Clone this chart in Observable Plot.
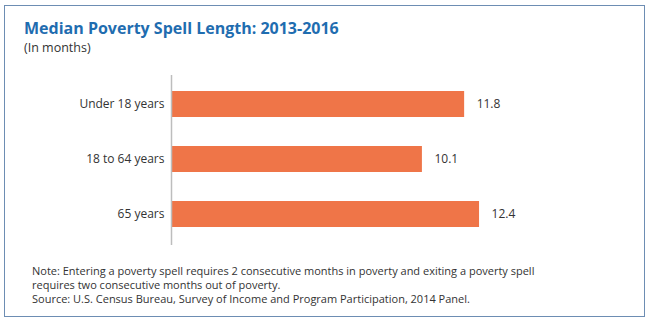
<!DOCTYPE html>
<html>
<head>
<meta charset="utf-8">
<script src="https://cdn.jsdelivr.net/npm/d3@7"></script>
<script src="https://cdn.jsdelivr.net/npm/@observablehq/plot@0.6"></script>
<style>
  body { margin: 0; background: #fff; font-family: "Open Sans", sans-serif; }
  #wrap { position: relative; width: 650px; height: 323px; overflow: hidden; }
  #frame { position: absolute; left: 4px; top: 5px; width: 639px; height: 310px; border: 1px solid #6d8db3; }
  #title { position: absolute; left: 24px; top: 19px; font-size: 16px; line-height: 18px; font-weight: 700; color: #1f6db0; white-space: nowrap; }
  #subtitle { position: absolute; left: 24px; top: 40px; font-size: 12.5px; line-height: 15px; color: #333; white-space: nowrap; }
  #notes { position: absolute; left: 32px; top: 264px; font-size: 11px; color: #333; line-height: 14px; }
  #notes div { white-space: nowrap; }
  #chart { position: absolute; left: 0; top: 0; }
</style>
</head>
<body>
<div id="wrap">
  <div id="frame"></div>
  <div id="chart"></div>
  <div id="title">Median Poverty Spell Length: 2013-2016</div>
  <div id="subtitle">(In months)</div>
  <div id="notes">
    <div>Note: Entering a poverty spell requires 2 consecutive months in poverty and exiting a poverty spell</div>
    <div>requires two consecutive months out of poverty.</div>
    <div>Source: U.S. Census Bureau, Survey of Income and Program Participation, 2014 Panel.</div>
  </div>
</div>
<script>
const categories = ["Under 18 years", "18 to 64 years", "65 years"];
const values = [11.8, 10.1, 12.4];

const data = categories.map((c, i) => ({category: c, value: values[i]}));

const chart = Plot.plot({
  width: 650,
  height: 323,
  marginLeft: 171,
  marginRight: 7,
  marginTop: 62,
  marginBottom: 67,
  style: {background: "transparent", fontFamily: "Open Sans, sans-serif", fontSize: "12px", color: "#333"},
  x: {domain: [0, 19], axis: null},
  y: {domain: categories, padding: 0.527, label: null, tickSize: 0, tickPadding: 7},
  marks: [
    Plot.barX(data, {x: "value", y: "category", fill: "#ef7548"}),
    Plot.ruleX([0], {stroke: "#bdbdbd", strokeWidth: 1.5, insetTop: 13, insetBottom: 11}),
    Plot.text(data, {x: "value", y: "category", text: d => d.value.toFixed(1), textAnchor: "start", dx: 12, fill: "#333", fontSize: 12})
  ]
});
document.getElementById("chart").appendChild(chart);
</script>
</body>
</html>
